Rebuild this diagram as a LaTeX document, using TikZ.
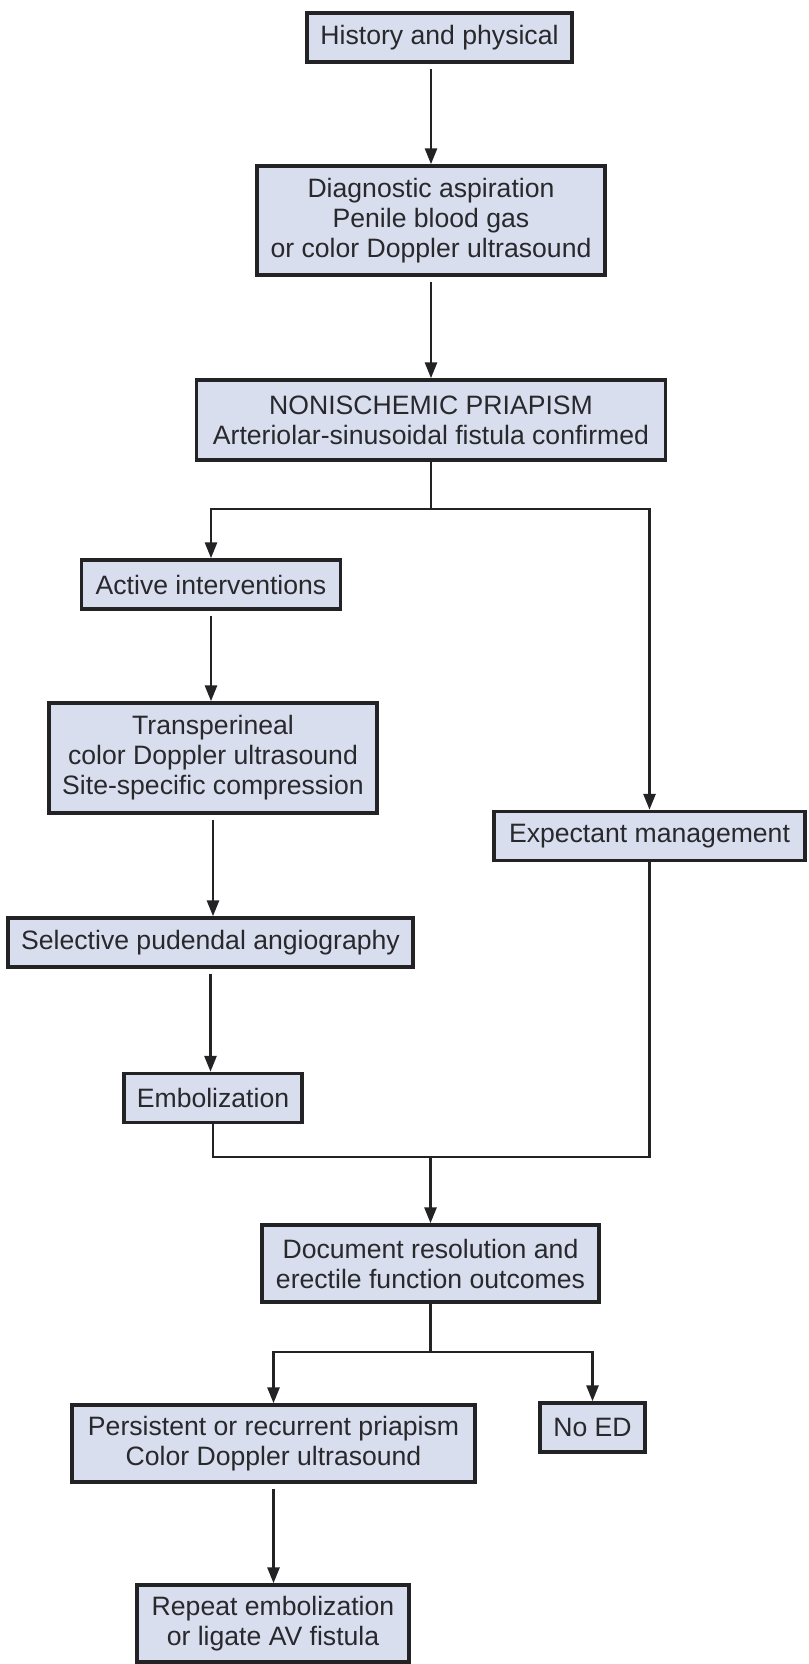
\documentclass[tikz,border=0pt]{standalone}
\usepackage{fontspec}
\setmainfont{Liberation Sans}
\usepackage{xcolor}
\usetikzlibrary{arrows.meta, positioning, calc}
\definecolor{boxfill}{RGB}{216,222,237}
\definecolor{boxline}{RGB}{35,35,38}
\definecolor{txt}{RGB}{40,40,45}

\begin{document}
\begin{tikzpicture}[x=0.5pt,y=-0.5pt,>={Triangle[length=8pt,width=6pt]},
  box/.style={draw=boxline,line width=1.7pt,fill=boxfill,text=txt,
    font=\fontsize{13.3}{15}\selectfont,align=center,inner sep=0pt,
    minimum height=24.5pt},
  flow/.style={->,line width=1.4pt,draw=boxline,shorten <=2.5pt},
  link/.style={line width=1.4pt,draw=boxline}]
  \useasboundingbox (0,0) rectangle (808,1664);

  % main column
  \node[box,minimum width=132.5pt] (hist) at (439.5,37.5) {History and physical};
  \node[box,minimum width=174pt,minimum height=54.5pt] (diag) at (431,220.5)
    {Diagnostic aspiration\\Penile blood gas\\or color Doppler ultrasound};
  \node[box,minimum width=234.5pt,minimum height=40pt] (noni) at (431,420)
    {NONISCHEMIC PRIAPISM\\Arteriolar-sinusoidal fistula confirmed};

  % two branches
  \node[box,minimum width=129.5pt] (active) at (211,584.5) {Active interventions};
  \node[box,minimum width=164pt,minimum height=55pt] (trans) at (213,758)
    {Transperineal\\color Doppler ultrasound\\Site-specific compression};
  \node[box,minimum width=155.5pt] (expect) at (649.5,836) {Expectant management};
  \node[box,minimum width=202.5pt] (select) at (210.5,942.5) {Selective pudendal angiography};
  \node[box,minimum width=89pt] (embol) at (213,1098) {Embolization};

  % outcomes
  \node[box,minimum width=168.5pt,minimum height=38.5pt] (doc) at (430.5,1263.5)
    {Document resolution and\\erectile function outcomes};
  \node[box,minimum width=201.5pt,minimum height=38.5pt] (persist) at (273.5,1443.5)
    {Persistent or recurrent priapism\\Color Doppler ultrasound};
  \node[box,minimum width=52.5pt] (noed) at (592.5,1427.5) {No ED};
  \node[box,minimum width=136pt,minimum height=38.5pt] (repeat) at (273,1623.5)
    {Repeat embolization\\or ligate AV fistula};

  \coordinate (split1) at (431,509);
  \coordinate (merge) at (430.5,1157);
  \coordinate (split2) at (430.5,1352);

  \draw[flow] (diag.north |- hist.south) -- (diag.north);
  \draw[flow] (noni.north |- diag.south) -- (noni.north);
  \draw[link] (noni.south) -- (split1);
  \draw[flow,shorten <=0pt] (split1) -| (active.north);
  \draw[flow,shorten <=0pt] (split1) -| (expect.north);
  \draw[flow] (active.south) -- (active.south |- trans.north);
  \draw[flow] (trans.south) -- (trans.south |- select.north);
  \draw[flow] (select.south) -- (select.south |- embol.north);
  \draw[link] (embol.south) |- (merge) -| (expect.south);
  \draw[flow,shorten <=0pt] (merge) -- (doc.north);
  \draw[link] (doc.south) -- (split2);
  \draw[flow,shorten <=0pt] (split2) -| (persist.north);
  \draw[flow,shorten <=0pt] (split2) -| (noed.north);
  \draw[flow] (persist.south) -- (persist.south |- repeat.north);
\end{tikzpicture}
\end{document}
